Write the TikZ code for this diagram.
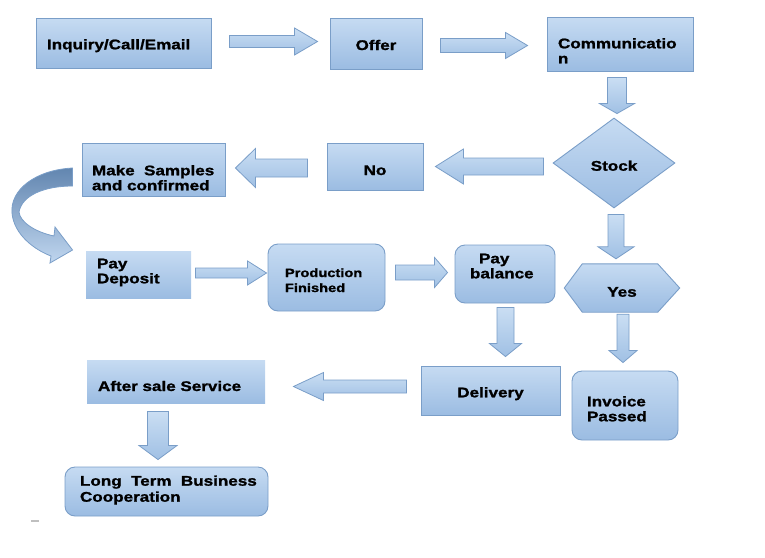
\documentclass[tikz,border=0pt]{standalone}
\usepackage{fontspec}
\setmainfont{Liberation Sans}[FakeStretch=1.22, BoldFeatures={FakeBold=1.3}]
\usetikzlibrary{shapes.geometric,calc,backgrounds}
\definecolor{ftop}{RGB}{198,219,242}
\definecolor{fbot}{RGB}{155,188,226}
\definecolor{bcol}{RGB}{122,158,200}
\definecolor{atop}{RGB}{202,222,243}
\definecolor{abot}{RGB}{160,192,228}
\definecolor{ctop}{RGB}{98,134,176}
\definecolor{cbot}{RGB}{192,214,239}
\tikzset{
 every node/.style={font=\fontsize{14}{15}\selectfont\bfseries},
 fillst/.style={draw=bcol, line width=0.9pt, top color=ftop, bottom color=fbot},
 box/.style={rectangle, fillst, inner sep=0pt},
 rbox/.style={box, rounded corners=10pt},
 tb/.style 2 args={text height=#1pt, text depth=#2pt},
 barrowstyle/.style={draw=bcol, line width=0.8pt, top color=atop, bottom color=abot, line join=miter},
}
% block arrow: start, end, shaft half width, head half width, head length
\newcommand\barrow[5]{%
 \path[barrowstyle] let \p1=(#1), \p2=(#2), \n1={veclen(\x2-\x1,\y2-\y1)}, \n2={(\x2-\x1)/\n1}, \n3={(\y2-\y1)/\n1} in
 ({\x1-(#3)*\n3},{\y1+(#3)*\n2})
 -- ({\x1+(\n1-#5)*\n2-(#3)*\n3},{\y1+(\n1-#5)*\n3+(#3)*\n2})
 -- ({\x1+(\n1-#5)*\n2-(#4)*\n3},{\y1+(\n1-#5)*\n3+(#4)*\n2})
 -- (\p2)
 -- ({\x1+(\n1-#5)*\n2+(#4)*\n3},{\y1+(\n1-#5)*\n3-(#4)*\n2})
 -- ({\x1+(\n1-#5)*\n2+(#3)*\n3},{\y1+(\n1-#5)*\n3-(#3)*\n2})
 -- ({\x1+(#3)*\n3},{\y1-(#3)*\n2})
 -- cycle;}
\begin{document}
\begin{tikzpicture}[x=1pt,y=1pt]
\useasboundingbox (0,0) rectangle (765,-557);
% nodes
\node[box, tb={12.6}{0}, minimum width=175pt, minimum height=50pt, inner xsep=11pt, text width=153pt, align=left] (inq) at (123.5,-43) {Inquiry/Call/Email};
\node[box, tb={13}{0}, minimum width=92pt, minimum height=51pt] (offer) at (376,-43.5) {Offer};
\node[box, tb={8.6}{0}, minimum width=146pt, minimum height=54pt, inner xsep=11pt, text width=124pt, align=left] (comm) at (620,-44) {Communicatio\\n};
\node[diamond, fillst, tb={15.4}{0}, minimum width=122pt, minimum height=90pt, inner sep=0pt] (stock) at (614,-163) {Stock};
\node[box, tb={17}{0}, minimum width=96pt, minimum height=47pt] (no) at (375,-166.5) {No};
\node[box, tb={11.6}{0}, minimum width=143pt, minimum height=53pt, inner xsep=10pt, text width=123pt, align=left] (make) at (153.5,-169.5) {Make~ Samples\\and confirmed};
\node[box, draw=none, tb={0}{12.4}, minimum width=105pt, minimum height=47pt, inner xsep=11pt, text width=83pt, align=left] (paydep) at (138.5,-274.5) {Pay\\Deposit};
\node[rbox, tb={0}{1}, minimum width=117pt, minimum height=67pt, inner xsep=17pt, text width=83pt, align=left, font=\fontsize{12}{15}\selectfont\bfseries] (prod) at (326.5,-277.5) {Production\\Finished};
\node[rbox, tb={0}{21.4}, minimum width=100pt, minimum height=58pt, inner xsep=15pt, text width=70pt, align=left] (paybal) at (505,-274) {\hspace{9pt}Pay\\balance};
\node[tb={17.4}{0}, minimum width=115pt, minimum height=48pt, inner sep=0pt] (yes) at (622,-288) {Yes};
\node[rbox, tb={1.6}{0}, minimum width=106pt, minimum height=69pt, inner xsep=15pt, text width=76pt, align=left] (invoice) at (625,-405.5) {Invoice\\Passed};
\node[box, tb={13.6}{0}, minimum width=139pt, minimum height=49pt] (delivery) at (490.5,-390.5) {Delivery};
\node[box, draw=none, tb={19}{0}, minimum width=178pt, minimum height=43pt, inner xsep=11pt, text width=156pt, align=left] (after) at (176,-381.5) {After sale Service};
\node[rbox, tb={0}{11.6}, minimum width=203pt, minimum height=49pt, inner xsep=15pt, text width=173pt, align=left, font=\fontsize{14}{16}\selectfont\bfseries] (longterm) at (166.5,-491.5) {\mbox{Long~ Term~ Business}\\Cooperation};
% hexagon behind Yes
\begin{pgfonlayer}{background}
\path[fillst] (yes.west) -- ($(yes.north west)+(18,0)$) -- ($(yes.north east)+(-22,0)$) -- (yes.east)
  -- ($(yes.south east)+(-22,0)$) -- ($(yes.south west)+(18,0)$) -- cycle;
\end{pgfonlayer}
% block arrows
\barrow{$(inq.east)+(18,1.5)$}{$(offer.west)+(-12,2)$}{6}{13.5}{23}
\barrow{$(offer.east)+(18,-2)$}{$(comm.west)+(-19,-1.5)$}{7}{13}{22}
\barrow{$(comm.south)+(-3,-6)$}{$(stock.north)+(3,4)$}{9.5}{17.5}{10}
\barrow{$(stock.west)+(-9,-3.5)$}{$(no.east)+(12,0)$}{8.5}{17.5}{28}
\barrow{$(no.west)+(-19,-1.5)$}{$(make.east)+(10,1.5)$}{9}{19.5}{20}
\barrow{$(paydep.east)+(4,1.5)$}{$(prod.west)+(-1,4.5)$}{5}{12}{19}
\barrow{$(prod.east)+(10,5)$}{$(paybal.west)+(-7,1.5)$}{7.5}{15}{13}
\barrow{$(stock.south)+(2,-6)$}{$(yes.north)+(-6,5)$}{8}{18}{12}
\barrow{$(paybal.south)+(0.5,-4)$}{$(delivery.north)+(15,9)$}{8.5}{16}{13}
\barrow{$(yes.south)+(1,-2)$}{$(invoice.north)+(-2,8)$}{6}{14}{12}
\barrow{$(delivery.west)+(-14,4)$}{$(after.east)+(28,-5)$}{6.5}{14}{30}
\barrow{$(after.south)+(-18,-8)$}{$(longterm.north)+(-8.5,7)$}{10.5}{19}{14}
% curved arrow from Make Samples to Pay Deposit
\coordinate (cs1) at ($(make.west)+(-9,1.5)$);
\coordinate (cs2) at ($(make.west)+(-9,-16.5)$);
\coordinate (ctip) at ($(paydep.west)+(-13,24.5)$);
\path[draw=bcol, line width=0.8pt, top color=ctop, bottom color=cbot]
 (cs1) .. controls (35,-170) and (10,-190) .. (12,-213)
 .. controls (14,-235) and (35,-250) .. (51,-256) -- (50,-263) -- (ctip) -- (55,-227) -- (54,-236)
 .. controls (35,-232) and (20,-222) .. (19,-212)
 .. controls (22,-195) and (45,-186) .. (cs2) -- cycle;
% small mark
\draw[gray!50, line width=1.5pt] (31,-521) -- (39,-521);
\end{tikzpicture}
\end{document}
